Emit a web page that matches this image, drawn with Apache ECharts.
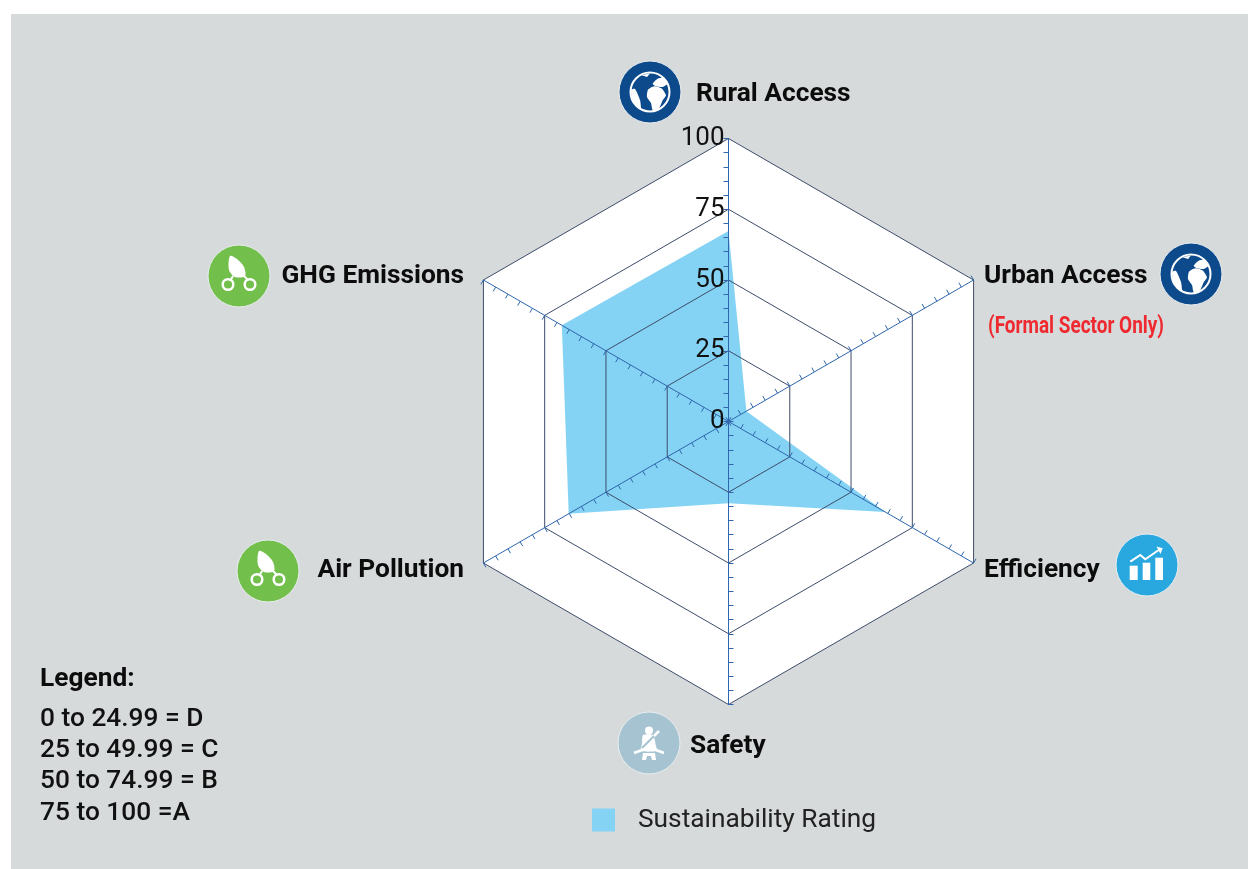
<!DOCTYPE html>
<html>
  <head>
    <meta charset="utf-8">
    <script src="https://cdnjs.cloudflare.com/ajax/libs/echarts/6.0.0/echarts.min.js"></script>
    <style>
      html, body { margin: 0; padding: 0; background-color: #fff; }
      #chart { width: 1248px; height: 869px; }
    </style>
  </head>
  <body>
    <div id="chart"></div>
    <script>
      // counter-clockwise from the top, the way radar lays out indicators
      var categories = ['Rural Access', 'GHG Emissions', 'Air Pollution', 'Safety', 'Efficiency', 'Urban Access'];
      var ratings = [67.3, 68, 65.2, 28.9, 64, 7.3];
      var seriesName = 'Sustainability Rating';
      var note = '(Formal Sector Only)';
      var legendTitle = 'Legend:';
      var legendLines = ['0 to 24.99 = D', '25 to 49.99 = C', '50 to 74.99 = B', '75 to 100 =A'];

      var font = 'Roboto, sans-serif';
      var center = [728.5, 421.5];
      var radius = 283;
      var axisBlue = '#2f66ad';

      var indicators = categories.map(function (c) { return { name: c, min: 0, max: 100 }; });
      // only the first axis carries the numbers
      var labelledIndicators = categories.map(function (c, i) {
        return {
          name: c, min: 0, max: 100,
          axisLabel: {
            show: i === 0, fontFamily: font, fontSize: 26, color: '#111', margin: 4,
            showMinLabel: true, showMaxLabel: true
          }
        };
      });

      function baseRadar(extra) {
        return Object.assign({
          center: center,
          radius: radius,
          startAngle: 90,
          shape: 'polygon',
          axisName: { show: false },
          splitLine: { show: false },
          splitArea: { show: false },
          axisLine: { show: false },
          axisTick: { show: false },
          axisLabel: { show: false }
        }, extra);
      }

      function disc(fill) {
        return { type: 'circle', shape: { cx: 0, cy: 0, r: 31 }, style: { fill: fill, stroke: '#e9eef0', lineWidth: 1 } };
      }
      function white(points, smooth) {
        return { type: 'polygon', shape: { points: points, smooth: smooth || 0 }, style: { fill: '#fff' } };
      }
      function stroke(points, w, color) {
        return { type: 'polyline', shape: { points: points }, style: { stroke: color || '#fff', lineWidth: w, fill: null } };
      }
      function ring(cx, cy, r, w) {
        return { type: 'circle', shape: { cx: cx, cy: cy, r: r }, style: { fill: 'transparent', stroke: '#fff', lineWidth: w } };
      }

      function globeIcon(x, y) {
        return { type: 'group', x: x, y: y, children: [
          disc('#0d4a8c'),
          ring(0, 0, 19.5, 2),
          white([[-2, -2.3], [4.3, -5.7], [12, -3.3], [16, 3.3], [12.7, 8.3], [8.7, 17], [2.7, 18], [1, 11], [-3, 5]], 0.2),
          white([[2.7, -8.3], [7.7, -13.3], [14, -14], [17.5, -8.3], [12.7, -5], [6, -5.7]], 0.2),
          white([[-19, -2], [-15, -3], [-10, 8], [-9, 16], [-10, 17], [-17, 9]], 0.2),
          white([[-9, -17], [0, -18.5], [-3, -15]])
        ] };
      }
      function leafIcon(x, y) {
        return { type: 'group', x: x, y: y, children: [
          disc('#72bf4b'),
          white([[-9, -20], [-2, -17], [5, -9], [6, 0], [-4, 1], [-10, -6]], 0.3),
          stroke([[-6, 0], [-9, 5]], 2),
          stroke([[5, 0], [9, 4]], 2),
          ring(-11, 8.5, 5.3, 2.5),
          ring(11, 8.5, 5.3, 2.5)
        ] };
      }
      function beltIcon(x, y) {
        return { type: 'group', x: x, y: y, children: [
          disc('#a6c3d1'),
          { type: 'circle', shape: { cx: 0, cy: -12.5, r: 4 }, style: { fill: '#fff' } },
          white([[-6, -8], [4, -8], [7, 3], [8, 8], [-8, 8], [-7, 1]], 0.2),
          stroke([[10, -12], [-7, 5]], 2, '#a6c3d1'),
          stroke([[10, -12], [5, -7]], 2.5),
          stroke([[-15, 10], [-7, 7]], 2.5),
          stroke([[15, 10], [7, 7]], 2.5),
          white([[-6, 10], [6, 10], [7, 17], [3, 17], [2, 13], [-2, 13], [-3, 17], [-7, 17]])
        ] };
      }
      function barsIcon(x, y) {
        var bar = function (x0, x1, y0) {
          return { type: 'rect', shape: { x: x0, y: y0, width: x1 - x0, height: 15 - y0 }, style: { fill: '#fff' } };
        };
        return { type: 'group', x: x, y: y, children: [
          disc('#29a8e0'),
          bar(-17.3, -9.3, 0.7), bar(-4.3, 3.3, -2.3), bar(8.3, 16, -7.3),
          stroke([[-16.7, -3.3], [-6.7, -10], [-1.7, -5.7], [11.7, -15]], 2),
          white([[15.7, -16.7], [9.5, -18.5], [13.5, -11]])
        ] };
      }

      function label(text, x, y, align) {
        return {
          type: 'text', x: x, y: y,
          style: { text: text, font: 'bold 26.3px ' + font, fill: '#0c0c0c', textAlign: align || 'left', textVerticalAlign: 'middle' }
        };
      }

      var graphics = [
        { type: 'rect', z: -10, shape: { x: 11, y: 14, width: 1237, height: 855 }, style: { fill: '#d7dadb' } },
        globeIcon(650, 92), globeIcon(1191, 274), leafIcon(239, 276), leafIcon(268, 571),
        barsIcon(1147, 565), beltIcon(649, 743),
        label(categories[0], 696, 94),
        label(categories[1], 464, 276, 'right'),
        label(categories[2], 464, 570, 'right'),
        label(categories[3], 690, 746),
        label(categories[4], 984, 570),
        label(categories[5], 984, 276),
        {
          type: 'text', x: 988, y: 327, scaleX: 0.79,
          style: { text: note, font: 'bold 24px ' + font, fill: '#ee2a30', textVerticalAlign: 'middle' }
        },
        label(legendTitle, 40, 679)
      ];
      var legendY = [719, 750, 781, 813];
      legendLines.forEach(function (line, i) {
        graphics.push({
          type: 'text', x: 40, y: legendY[i],
          style: { text: line, font: '500 26.3px ' + font, fill: '#111', textVerticalAlign: 'middle' }
        });
      });

      var chart = echarts.init(document.getElementById('chart'));
      chart.setOption({
        animation: false,
        backgroundColor: '#fff',
        graphic: graphics,
        legend: {
          left: 587, top: 802,
          icon: 'rect',
          itemWidth: 23, itemHeight: 23,
          data: [seriesName],
          textStyle: { fontFamily: font, fontSize: 26.3, color: '#222', padding: [0, 0, 0, 18] }
        },
        radar: [
          // white plate, sits under the filled area
          baseRadar({ indicator: indicators, splitNumber: 4, z: 0, splitArea: { show: true, areaStyle: { color: ['#fff'], shadowBlur: 0 } } }),
          // grid and numbers go over the fill
          baseRadar({
            indicator: labelledIndicators, splitNumber: 4, z: 5,
            splitLine: { show: true, lineStyle: { color: '#3d4c6b', width: 1 } },
            axisLine: { show: true, lineStyle: { color: axisBlue, width: 1 } }
          }),
          // one tick every 5
          baseRadar({
            indicator: indicators, splitNumber: 20, z: 5,
            axisTick: { show: true, inside: true, length: 5, lineStyle: { color: axisBlue, width: 1 } }
          })
        ],
        series: [{
          name: seriesName,
          type: 'radar',
          radarIndex: 0,
          z: 2,
          symbol: 'none',
          itemStyle: { color: '#84d3f4' },
          lineStyle: { width: 0 },
          areaStyle: { color: '#84d3f4', opacity: 1 },
          data: [{ value: ratings, name: seriesName }]
        }]
      });
    </script>
  </body>
</html>
